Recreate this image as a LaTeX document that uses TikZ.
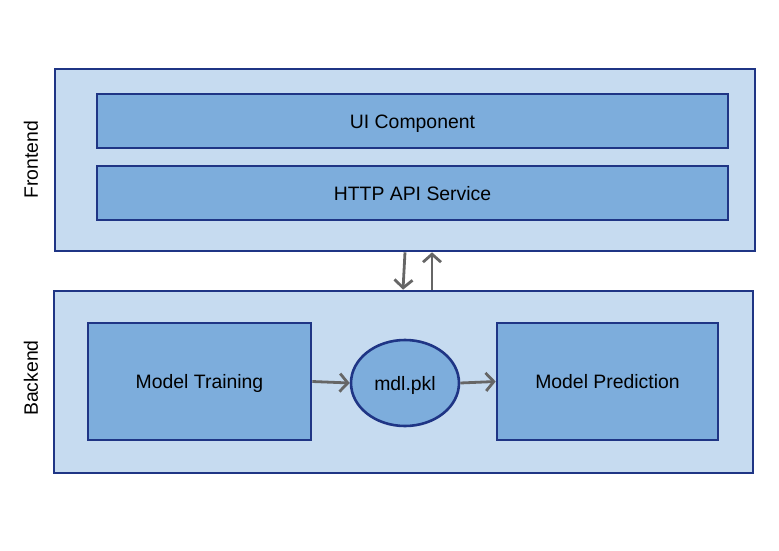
\documentclass[tikz,border=0pt]{standalone}
\usepackage{fontspec}
\setmainfont{Liberation Sans}
\usepackage{xcolor}
\usepackage{tikz}
\usetikzlibrary{shapes,arrows,positioning,calc,arrows.meta}

\definecolor{layerfill}{HTML}{C6DBF0}
\definecolor{boxfill}{HTML}{7DADDC}
\definecolor{edge}{HTML}{1F3585}
\definecolor{wire}{HTML}{666666}

\begin{document}
\begin{tikzpicture}[x=1pt, y=-1pt,
    layer/.style={draw=edge, fill=layerfill, line width=2.6pt, inner sep=0pt},
    block/.style={draw=edge, fill=boxfill, line width=2.6pt, inner sep=0pt, text height=14pt, text depth=0pt, font=\fontsize{19.4}{23}\selectfont},
    link/.style={draw=wire, line width=2.8pt, -{Straight Barb[length=8pt, width=18pt]}}]
    \useasboundingbox (0,0) rectangle (779,551);

    % Layers
    \node[layer, minimum width=700pt, minimum height=182pt] (frontend) at (405,160) {};
    \node[layer, minimum width=699pt, minimum height=182pt] (backend) at (403.5,382) {};
    \node[rotate=90, font=\fontsize{19.4}{23}\selectfont] (frontlbl) at (31,160) {Frontend};
    \node[rotate=90, font=\fontsize{19.4}{23}\selectfont] (backlbl) at (31,378) {Backend};

    % Frontend parts
    \node[block, minimum width=631pt, minimum height=54pt] (ui) at (412.5,121) {UI Component};
    \node[block, minimum width=631pt, minimum height=54pt] (api) at (412.5,193) {HTTP API Service};

    % Backend parts
    \node[block, minimum width=223pt, minimum height=117pt] (train) at (199.5,381.5) {Model Training};
    \node[block, ellipse, minimum width=108pt, minimum height=86pt] (pkl) at (405,383) {mdl.pkl};
    \node[block, minimum width=221pt, minimum height=117pt] (predict) at (607.5,381.5) {Model Prediction};

    % Links
    \coordinate (downtop) at (frontend.south -| 405,0);
    \coordinate (downbot) at (backend.north -| 403,0);
    \coordinate (uptop) at (frontend.south -| 432,0);
    \coordinate (upbot) at (backend.north -| 432,0);
    \draw[link] (downtop) -- (downbot);
    \draw[link] (upbot) -- (uptop);
    \draw[link] (train.east) -- (pkl.west);
    \draw[link] (pkl.east) -- (predict.west);
\end{tikzpicture}
\end{document}
